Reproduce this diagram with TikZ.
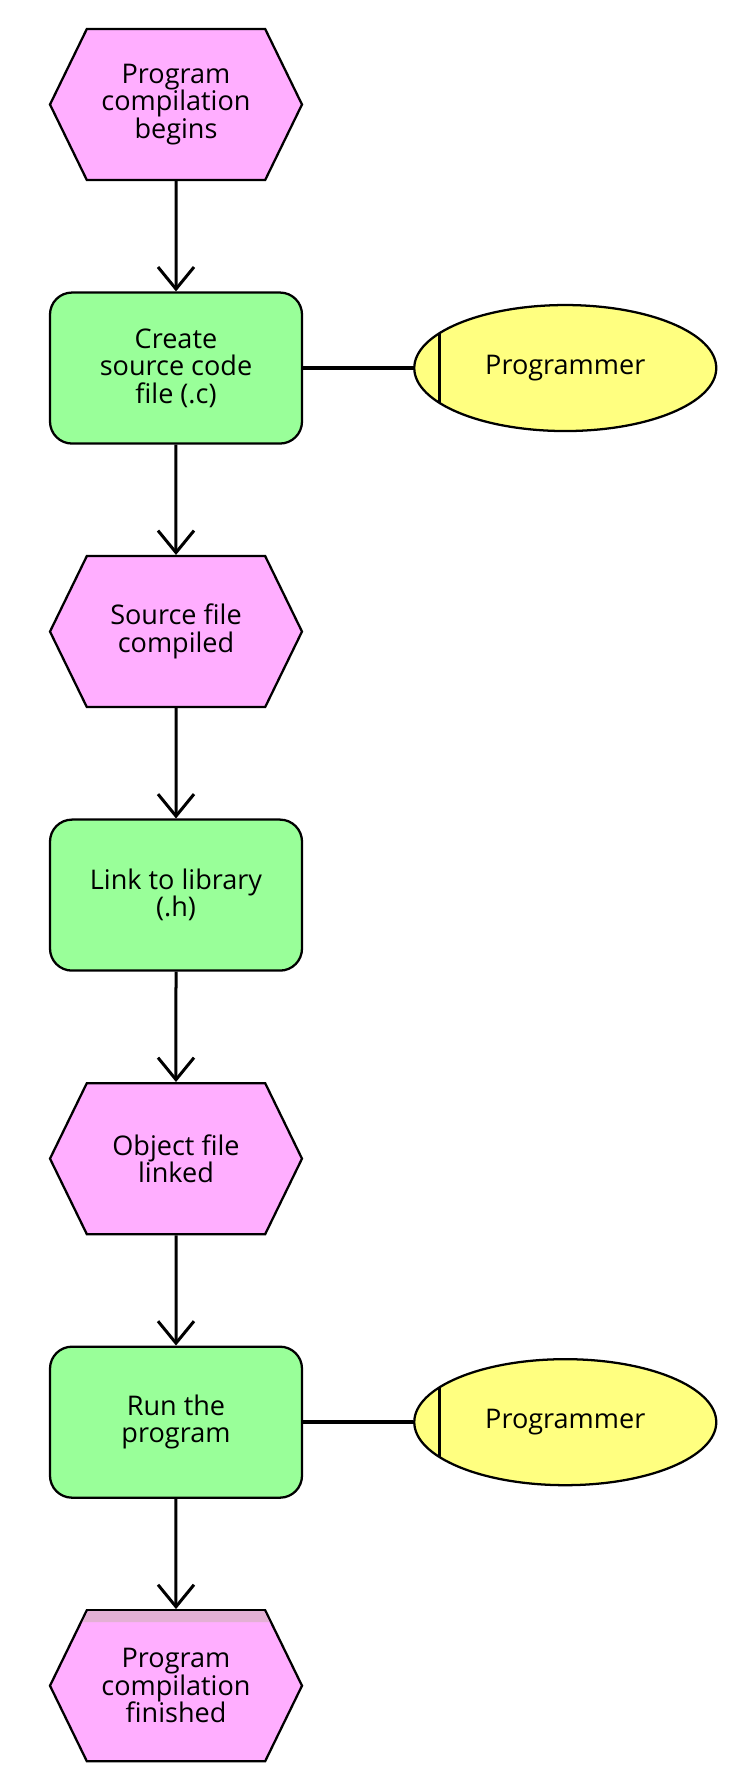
\documentclass[tikz,border=0pt]{standalone}
\usepackage{fontspec}
\setmainfont{Open Sans}
\usetikzlibrary{shapes.geometric, shapes.symbols, arrows.meta, positioning}
\definecolor{evtpink}{HTML}{FFAEFF}
\definecolor{bandpink}{HTML}{E3B0D4}
\definecolor{fncgreen}{HTML}{99FF99}
\definecolor{roleyellow}{HTML}{FFFF80}
\tikzset{
	% events
	event/.style={
		signal,
		signal to=west and east,
		signal pointer angle=128,
		draw,
		fill=evtpink,
		line width=1.7pt,
		minimum width=189pt,
		minimum height=113.25pt,
		inner sep=0pt,
		align=center,
		font=\fontsize{20.3}{20.6}\selectfont
	}, %
	% functions
	task/.style={
		rectangle,
		rounded corners=16.5pt,
		draw,
		fill=fncgreen,
		line width=1.7pt,
		minimum width=189pt,
		minimum height=113.25pt,
		inner sep=0pt,
		align=center,
		font=\fontsize{20.3}{20.6}\selectfont
	}, %
	% organisational units
	role/.style={
		ellipse,
		draw,
		fill=roleyellow,
		line width=1.7pt,
		minimum width=226.5pt,
		minimum height=94.5pt,
		inner sep=0pt,
		font=\fontsize{20.3}{20.6}\selectfont
	}, %
	flow/.style={
		-{Straight Barb[length=16.5pt, width=27pt]},
		line width=2.25pt
	},
	link/.style={line width=3pt},
	bar/.style={line width=2.25pt}
}

\begin{document}
\begin{tikzpicture}[x=0.75pt, y=-0.75pt]
	\useasboundingbox (0,0) rectangle (735,1775);

	%% main column
	\node [event] (start) at (176,104.5) {Program\\compilation\\begins};
	\node [task, below=82.7pt of start] (create) {Create\\source code\\file (.c)};
	\node [event, below=82.7pt of create] (compiled) {Source file\\compiled};
	\node [task, below=82.7pt of compiled] (link) {Link to library\\(.h)};
	\node [event, below=82.7pt of link] (linked) {Object file\\linked};
	\node [task, below=82.7pt of linked] (run) {Run the\\program};
	\node [event, below=82.7pt of run] (finish) {Program\\compilation\\finished};

	%% programmers
	\node [role, right=82.5pt of create] (coder1) {Programmer};
	\node [role, right=82.5pt of run] (coder2) {Programmer};
	\draw [bar] ([shift={(-126,-35)}]coder1.center) -- ([shift={(-126,35)}]coder1.center);
	\draw [bar] ([shift={(-126,-35)}]coder2.center) -- ([shift={(-126,35)}]coder2.center);

	% band on top of the last event
	\fill [bandpink] ([shift={(-88,2)}]finish.north) -- ([shift={(88,2)}]finish.north)
		-- ([shift={(93.5,13)}]finish.north) -- ([shift={(-93.5,13)}]finish.north) -- cycle;

	%% connectors
	\draw [flow] (start) -- (create);
	\draw [flow] (create) -- (compiled);
	\draw [flow] (compiled) -- (link);
	\draw [flow] (link) -- (linked);
	\draw [flow] (linked) -- (run);
	\draw [flow] (run) -- (finish);
	\draw [link] (create) -- (coder1);
	\draw [link] (run) -- (coder2);
\end{tikzpicture}
\end{document}
